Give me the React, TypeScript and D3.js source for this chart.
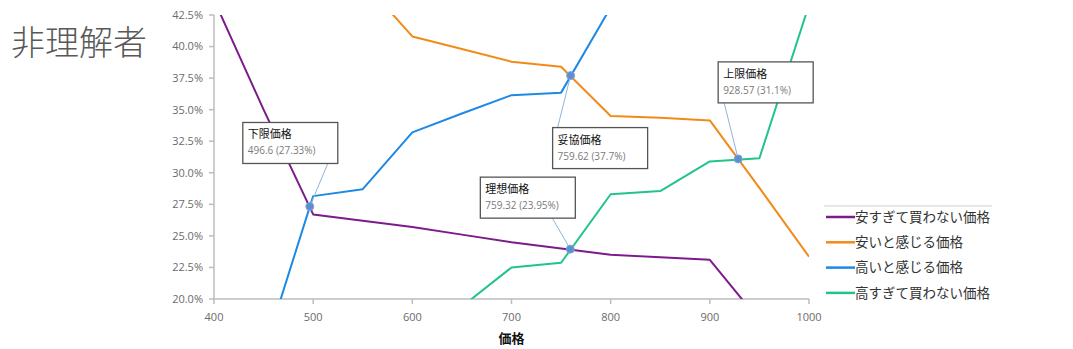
import React from "react";
import * as d3 from "d3";

const prices = [400, 450, 500, 550, 600, 650, 700, 750, 800, 850, 900, 950, 1000];

const tooCheap = [43.7, 35.0, 26.7, 26.2, 25.7, 25.1, 24.5, 24.0, 23.5, 23.3, 23.1, 18.3, 13.5];
const cheap = [null, null, null, 45.2, 40.8, 39.8, 38.8, 38.4, 34.5, 34.35, 34.15, 28.8, 23.35];
const expensive = [null, 15.7, 28.15, 28.7, 33.2, 34.7, 36.15, 36.35, 43.1, null, null, null, null];
const tooExpensive = [null, null, null, null, null, 19.4, 22.5, 22.87, 28.3, 28.55, 30.9, 31.15, 43.3];

const seriesNames = ["安すぎて買わない価格", "安いと感じる価格", "高いと感じる価格", "高すぎて買わない価格"];
const seriesColors = ["#7d1a8c", "#f28a1a", "#1e88e5", "#21c48a"];
const seriesValues = [tooCheap, cheap, expensive, tooExpensive];

const yTicks = [20, 22.5, 25, 27.5, 30, 32.5, 35, 37.5, 40, 42.5];
const xTicks = [400, 500, 600, 700, 800, 900, 1000];

const annLabels = ["下限価格", "妥協価格", "理想価格", "上限価格"];
const annPrices = [496.6, 759.62, 759.32, 928.57];
const annPercents = [27.33, 37.7, 23.95, 31.1];
const annValueText = ["496.6 (27.33%)", "759.62 (37.7%)", "759.32 (23.95%)", "928.57 (31.1%)"];

// layout of callout boxes relative to their points (pixels)
const annBoxOffsets = [
  { dx: -67, dy: -84, ax: 18 },
  { dx: -18, dy: 52, ax: -13 },
  { dx: -90, dy: -72, ax: -18 },
  { dx: -20, dy: -97, ax: -14 },
];

const W = 1073;
const H = 349;
const M = { left: 214, right: 809, top: 15, bottom: 299 };
const BOX_W = 95;
const BOX_H = 41;

export default function App() {
  const x = d3.scaleLinear().domain([400, 1000]).range([M.left, M.right]);
  const y = d3.scaleLinear().domain([20, 42.5]).range([M.bottom, M.top]);

  const line = d3
    .line<[number, number | null]>()
    .defined((d) => d[1] != null)
    .x((d) => x(d[0]))
    .y((d) => y(d[1] as number));

  const font = "'Noto Sans CJK JP', 'Noto Sans', sans-serif";
  const axisColor = "#bdbdbd";

  return (
    <svg width={W} height={H} style={{ position: "absolute", left: 0, top: 0, background: "#fff" }}>
      <defs>
        <clipPath id="plot">
          <rect x={M.left} y={M.top} width={M.right - M.left} height={M.bottom - M.top} />
        </clipPath>
      </defs>

      <text x={11} y={55} fontFamily={font} fontSize={34} fill="#595959" fontWeight={300}>
        非理解者
      </text>

      {/* y axis */}
      <line x1={M.left} x2={M.left} y1={M.top} y2={M.bottom} stroke={axisColor} strokeWidth={1.5} />
      {yTicks.map((t) => (
        <g key={t}>
          <line x1={M.left - 5} x2={M.left} y1={y(t)} y2={y(t)} stroke={axisColor} strokeWidth={1.5} />
          <text
            x={M.left - 11}
            y={y(t)}
            dy="0.35em"
            textAnchor="end"
            fontFamily="'Open Sans', 'Noto Sans', sans-serif"
            fontSize={11}
            fill="#6b6b6b"
          >
            {t.toFixed(1)}%
          </text>
        </g>
      ))}

      {/* x axis */}
      <line x1={M.left} x2={M.right} y1={M.bottom} y2={M.bottom} stroke={axisColor} strokeWidth={1.5} />
      {xTicks.map((t) => (
        <g key={t}>
          <line x1={x(t)} x2={x(t)} y1={M.bottom} y2={M.bottom + 5} stroke={axisColor} strokeWidth={1.5} />
          <text
            x={x(t)}
            y={M.bottom + 22}
            textAnchor="middle"
            fontFamily="'Open Sans', 'Noto Sans', sans-serif"
            fontSize={11}
            fill="#6b6b6b"
          >
            {t}
          </text>
        </g>
      ))}
      <text
        x={(M.left + M.right) / 2}
        y={343}
        textAnchor="middle"
        fontFamily={font}
        fontSize={13}
        fontWeight={700}
        fill="#111"
      >
        価格
      </text>

      {/* series */}
      <g clipPath="url(#plot)">
        {seriesValues.map((vals, i) => (
          <path
            key={i}
            d={line(prices.map((p, j) => [p, vals[j]] as [number, number | null])) || ""}
            fill="none"
            stroke={seriesColors[i]}
            strokeWidth={2}
            strokeLinejoin="round"
          />
        ))}
      </g>

      {/* annotations */}
      {annLabels.map((lab, i) => {
        const px = x(annPrices[i]);
        const py = y(annPercents[i]);
        const o = annBoxOffsets[i];
        const bx = px + o.dx;
        const by = py + o.dy;
        const lx = px + o.ax;
        const ly = o.dy < 0 ? by + BOX_H : by;
        return (
          <g key={lab}>
            <line x1={lx} y1={ly} x2={px} y2={py} stroke="#8fb4d9" strokeWidth={1} />
            <rect x={bx} y={by} width={BOX_W} height={BOX_H} fill="#fff" stroke="#555" strokeWidth={1.3} />
            <text x={bx + 5} y={by + 16} fontFamily={font} fontSize={11} fill="#111">
              {lab}
            </text>
            <text x={bx + 5} y={by + 32} fontFamily="'Open Sans', 'Noto Sans', sans-serif" fontSize={10} fill="#7a7a7a">
              {annValueText[i]}
            </text>
            <circle cx={px} cy={py} r={4} fill="#5b8fcf" stroke="#7ea6d8" strokeWidth={1} />
          </g>
        );
      })}

      {/* legend */}
      <line x1={824} x2={992} y1={206} y2={206} stroke="#d0d0d0" strokeWidth={1} />
      {seriesNames.map((name, i) => {
        const ly = 217 + i * 25.3;
        return (
          <g key={name}>
            <line x1={826} x2={855} y1={ly} y2={ly} stroke={seriesColors[i]} strokeWidth={2.5} />
            <text x={855} y={ly} dy="0.36em" fontFamily={font} fontSize={13.5} fill="#333">
              {name}
            </text>
          </g>
        );
      })}
    </svg>
  );
}
